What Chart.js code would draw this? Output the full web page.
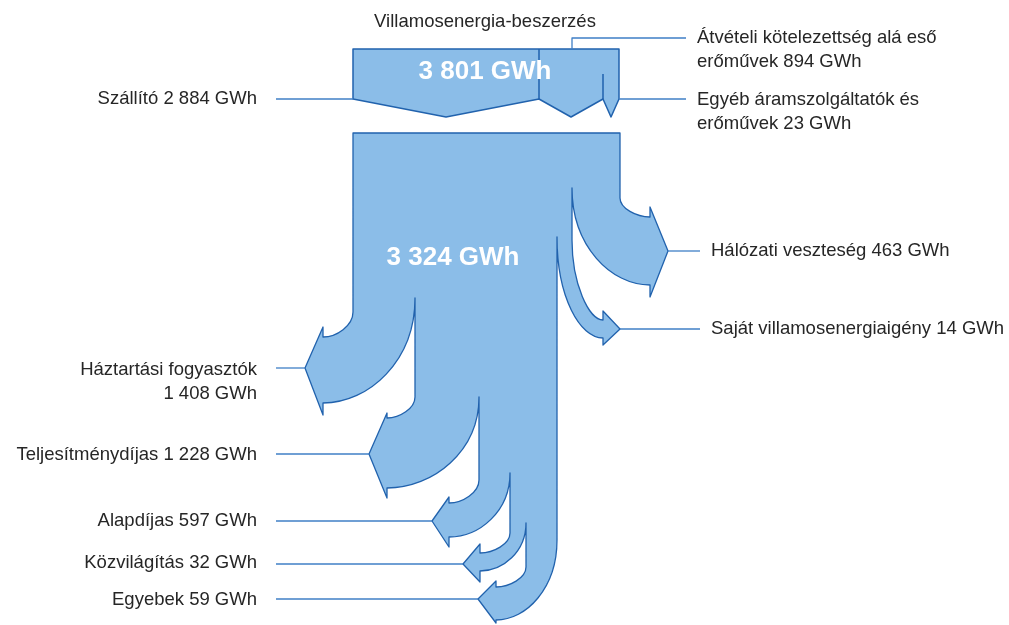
<!DOCTYPE html>
<html><head><meta charset="utf-8">
<script src="https://cdn.jsdelivr.net/npm/chart.js@4/dist/chart.umd.min.js"></script>
<style>html,body{margin:0;padding:0;background:#fff}canvas{display:block}</style>
</head><body>
<canvas id="c" width="1009" height="625"></canvas>
<script>
// ---------- data ----------
const title = 'Villamosenergia-beszerzés';
const unit = 'GWh';
const sourceNames = [['Szállító'], ['Átvételi kötelezettség alá eső', 'erőművek'], ['Egyéb áramszolgáltatók és', 'erőművek']];
const sourceValues = [2884, 894, 23];
const purchaseTotal = 3801;
const lossNames = [['Hálózati veszteség'], ['Saját villamosenergiaigény']];
const lossValues = [463, 14];
const deliveredTotal = 3324;
const consumerNames = [['Háztartási fogyasztók', ''], ['Teljesítménydíjas'], ['Alapdíjas'], ['Közvilágítás'], ['Egyebek']];
const consumerValues = [1408, 1228, 597, 32, 59];

// ---------- layout (diagram units mapped through the chart scales) ----------
const BOX = { bounds: [353, 539, 603, 619], top: 49, side: 99, tip: 117, dividerTop: [49, 74] };
const TRUNK = { x0: 353, x1: 620, top: 133 };
// ox/ocs: outer edge x and curve-start y; ix/ics: inner edge; arrow geometry
const LOSS_GEO = [
  { ox: 620, ocs: 198, ix: 572, ics: 188, ax: 650, aTop: 217, aBot: 285, bTop: 207, bBot: 297, tx: 668, ty: 251 },
  { ox: 572, ocs: 240, ix: 557, ics: 237, ax: 603, aTop: 320, aBot: 338, bTop: 311, bBot: 345, tx: 620, ty: 329 }
];
const CONS_GEO = [
  { ox: 353, ocs: 312, ix: 415, ics: 298, ax: 323, aTop: 337, aBot: 403, bTop: 327, bBot: 415, tx: 305, ty: 368 },
  { ox: 415, ocs: 397, ix: 479, ics: 397, ax: 387, aTop: 418, aBot: 488, bTop: 413, bBot: 498, tx: 369, ty: 454 },
  { ox: 479, ocs: 480, ix: 510, ics: 473, ax: 449, aTop: 503, aBot: 537, bTop: 497, bBot: 547, tx: 432, ty: 521 },
  { ox: 510, ocs: 533, ix: 526, ics: 523, ax: 480, aTop: 553, aBot: 571, bTop: 544, bBot: 582, tx: 463, ty: 564 },
  { ox: 526, ocs: 567, ix: 557, ics: 540, ax: 496, aTop: 587, aBot: 620, bTop: 581, bBot: 623, tx: 478, ty: 599 }
];
const SOURCE_LABELS = [
  { x: 257, y: 99, align: 'right', line: [[276, 99], [353, 99]] },
  { x: 697, y: 38, align: 'left', line: [[572, 49], [572, 38], [686, 38]] },
  { x: 697, y: 100, align: 'left', line: [[619, 99], [686, 99]] }
];
const LOSS_LABELS = [{ x: 711, y: 251 }, { x: 711, y: 329 }];
const CONS_LABELS = [{ y: 370 }, { y: 455 }, { y: 521 }, { y: 563 }, { y: 600 }];
const LEFT_X = 257, LEFT_LINE_X = 276, LOSS_LINE_X = 700;
const LINE_H = 24;

const FILL = '#8bbde8', EDGE = '#2162ad', CONN = '#3f7fc6', TEXT = '#262626';
const FONT = '"Liberation Sans", Arial, Helvetica, sans-serif';

function fmt(v) { return String(v).replace(/\B(?=(\d{3})+(?!\d))/g, ' ') + ' ' + unit; }
function labelLines(names, v) {
  const lines = names.slice();
  const last = lines[lines.length - 1];
  lines[lines.length - 1] = (last ? last + ' ' : '') + fmt(v);
  return lines;
}

const sankeyPlugin = {
  id: 'sankey',
  afterDatasetsDraw(chart) {
    const ctx = chart.ctx, xs = chart.scales.x, ys = chart.scales.y;
    const X = v => xs.getPixelForValue(v), Y = v => ys.getPixelForValue(v);
    const m = (x, y) => ctx.moveTo(X(x), Y(y));
    const l = (x, y) => ctx.lineTo(X(x), Y(y));
    const c = (a, b, e, f, g, h) => ctx.bezierCurveTo(X(a), Y(b), X(e), Y(f), X(g), Y(h));
    const outerC = g => [g.ox, g.ocs + 0.55 * (g.aTop - g.ocs), g.ax + 0.45 * (g.ox - g.ax), g.aTop];
    const innerC = g => [g.ix, g.ics + 0.6 * (g.aBot - g.ics), g.ax + 0.5 * (g.ix - g.ax), g.aBot];

    ctx.save();
    ctx.lineJoin = 'round';
    // ---- purchase box ----
    const b = BOX.bounds;
    ctx.beginPath();
    m(b[0], BOX.top); l(b[b.length - 1], BOX.top); l(b[b.length - 1], BOX.side);
    for (let i = b.length - 1; i > 0; i--) {
      l((b[i] + b[i - 1]) / 2, BOX.tip); l(b[i - 1], BOX.side);
    }
    ctx.closePath();
    ctx.fillStyle = FILL; ctx.fill();
    ctx.strokeStyle = EDGE; ctx.lineWidth = 1.5; ctx.stroke();
    ctx.beginPath();
    for (let i = 1; i < b.length - 1; i++) { m(b[i], BOX.dividerTop[i - 1]); l(b[i], BOX.side); }
    ctx.stroke();

    // ---- distribution trunk with all branches (one outline) ----
    ctx.beginPath();
    m(TRUNK.x0, TRUNK.top); l(TRUNK.x1, TRUNK.top);
    LOSS_GEO.forEach(g => {
      l(g.ox, g.ocs);
      const o = outerC(g); c(o[0], o[1], o[2], o[3], g.ax, g.aTop);
      l(g.ax, g.bTop); l(g.tx, g.ty); l(g.ax, g.bBot); l(g.ax, g.aBot);
      const n = innerC(g); c(n[2], n[3], n[0], n[1], g.ix, g.ics);
    });
    for (let i = CONS_GEO.length - 1; i >= 0; i--) {
      const g = CONS_GEO[i];
      l(g.ix, g.ics);
      const n = innerC(g); c(n[0], n[1], n[2], n[3], g.ax, g.aBot);
      l(g.ax, g.bBot); l(g.tx, g.ty); l(g.ax, g.bTop); l(g.ax, g.aTop);
      const o = outerC(g); c(o[2], o[3], o[0], o[1], g.ox, g.ocs);
    }
    ctx.closePath();
    ctx.fillStyle = FILL; ctx.fill();
    ctx.lineWidth = 1.3; ctx.strokeStyle = EDGE; ctx.stroke();

    // ---- connector lines ----
    ctx.strokeStyle = CONN; ctx.lineWidth = 1.3;
    const poly = pts => { ctx.beginPath(); m(pts[0][0], pts[0][1]); pts.slice(1).forEach(p => l(p[0], p[1])); ctx.stroke(); };
    SOURCE_LABELS.forEach(s => poly(s.line));
    LOSS_GEO.forEach((g, i) => poly([[g.tx, g.ty], [LOSS_LINE_X, g.ty]]));
    CONS_GEO.forEach(g => poly([[LEFT_LINE_X, g.ty], [g.tx, g.ty]]));

    // ---- texts ----
    ctx.textBaseline = 'middle';
    ctx.fillStyle = TEXT;
    ctx.font = '18.5px ' + FONT;
    ctx.textAlign = 'center';
    ctx.fillText(title, X(485), Y(22));
    const block = (lines, x, y, align) => {
      ctx.textAlign = align;
      lines.forEach((t, k) => ctx.fillText(t, X(x), Y(y + k * LINE_H)));
    };
    sourceNames.forEach((n, i) => block(labelLines(n, sourceValues[i]), SOURCE_LABELS[i].x, SOURCE_LABELS[i].y, SOURCE_LABELS[i].align));
    lossNames.forEach((n, i) => block(labelLines(n, lossValues[i]), LOSS_LABELS[i].x, LOSS_LABELS[i].y, 'left'));
    consumerNames.forEach((n, i) => block(labelLines(n, consumerValues[i]), LEFT_X, CONS_LABELS[i].y, 'right'));

    ctx.fillStyle = '#ffffff';
    ctx.font = 'bold 26px ' + FONT;
    ctx.textAlign = 'center';
    ctx.fillText(fmt(purchaseTotal), X(485), Y(72));
    ctx.fillText(fmt(deliveredTotal), X(453), Y(258));
    ctx.restore();
  }
};

new Chart(document.getElementById('c'), {
  type: 'scatter',
  data: { datasets: [{ data: [], pointRadius: 0 }] },
  options: {
    responsive: false,
    animation: false,
    layout: { padding: 0 },
    plugins: { legend: { display: false }, tooltip: { enabled: false } },
    scales: {
      x: { type: 'linear', min: 0, max: 1009, display: false },
      y: { type: 'linear', min: 0, max: 625, reverse: true, display: false }
    }
  },
  plugins: [sankeyPlugin, {
    id: 'bg',
    beforeDraw(chart) { const c = chart.ctx; c.save(); c.fillStyle = '#fff'; c.fillRect(0, 0, chart.width, chart.height); c.restore(); }
  }]
});
</script>
</body></html>
